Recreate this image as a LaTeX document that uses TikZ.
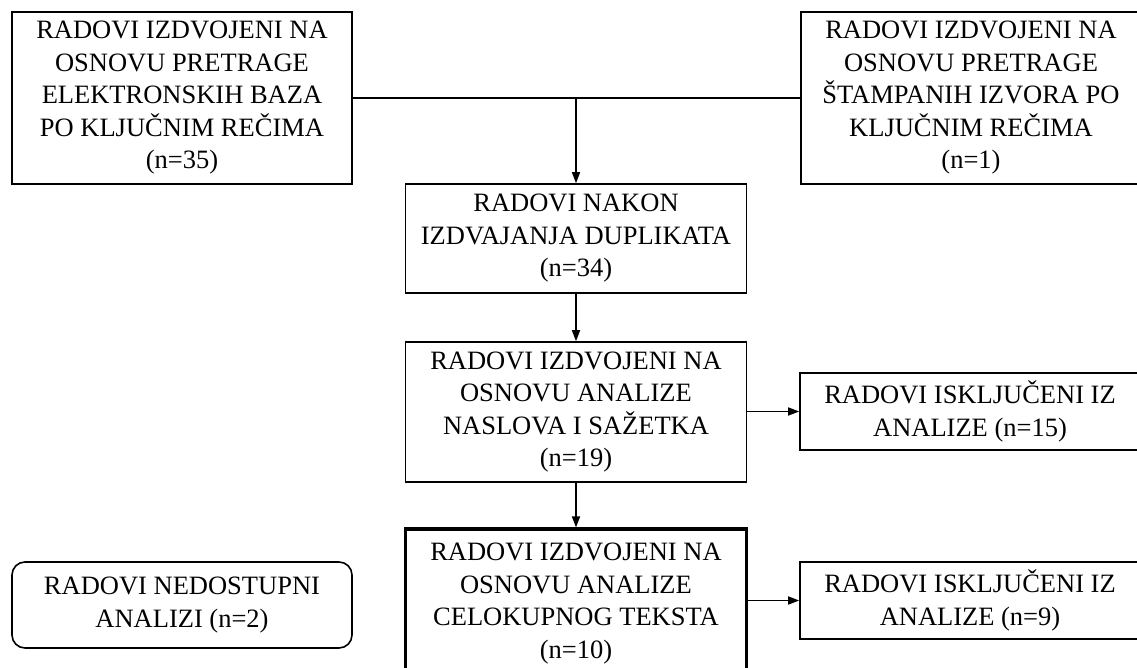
\documentclass[tikz,border=0pt]{standalone}
\usepackage{fontspec}
\setmainfont{Liberation Serif}
\usetikzlibrary{arrows.meta}

\tikzset{
  box/.style={draw, line width=1.6pt, inner sep=0pt, align=center,
    font=\fontsize{26.5}{32.5}\selectfont},
  heavybox/.style={box, line width=3.2pt},
  roundbox/.style={box, rounded corners=13pt},
  flow/.style={line width=1.6pt, -{Triangle[length=11pt,width=8pt]}},
  link/.style={line width=1.6pt}
}

\begin{document}
\begin{tikzpicture}[x=1pt,y=-1pt]
\useasboundingbox (0,0) rectangle (1137,668);
\clip (0,0) rectangle (1137,668);
\fill[white] (0,0) rectangle (1137,668);

% search sources
\node[box, minimum width=340pt, minimum height=172pt] (src1) at (182,98)
  {RADOVI IZDVOJENI NA\\OSNOVU PRETRAGE\\ELEKTRONSKIH BAZA\\PO KLJUČNIM REČIMA\\(n=35)};
\node[box, minimum width=340pt, minimum height=172pt] (src2) at (971,98)
  {RADOVI IZDVOJENI NA\\OSNOVU PRETRAGE\\ŠTAMPANIH IZVORA PO\\KLJUČNIM REČIMA\\(n=1)};

% screening steps
\node[box, minimum width=341pt, minimum height=109pt] (dedup) at (576,238.5)
  {RADOVI NAKON\\IZDVAJANJA DUPLIKATA\\(n=34)};
\node[box, minimum width=341pt, minimum height=140pt] (title) at (576,412)
  {RADOVI IZDVOJENI NA\\OSNOVU ANALIZE\\NASLOVA I SAŽETKA\\(n=19)};
\node[heavybox, minimum width=341pt, minimum height=149pt] (full) at (576,603.5)
  {RADOVI IZDVOJENI NA\\OSNOVU ANALIZE\\CELOKUPNOG TEKSTA\\(n=10)};

% exclusions
\node[box, minimum width=340pt, minimum height=77pt] (ex1) at (970,411.5)
  {RADOVI ISKLJUČENI IZ\\ANALIZE (n=15)};
\node[box, minimum width=340pt, minimum height=77pt] (ex2) at (970,600.5)
  {RADOVI ISKLJUČENI IZ\\ANALIZE (n=9)};
\node[roundbox, minimum width=340pt, minimum height=86pt] (na) at (182,605)
  {RADOVI NEDOSTUPNI\\ANALIZI (n=2)};

% connectors
\coordinate (merge) at (dedup.north |- src1.east);
\draw[link] (src1.east) -- (src2.west);
\draw[flow] (merge) -- (dedup.north);
\draw[flow] (dedup.south) -- (title.north);
\draw[flow] (title.south) -- (full.north);
\draw[flow] (title.east |- ex1.west) -- (ex1.west);
\draw[flow] (full.east |- ex2.west) -- (ex2.west);
\end{tikzpicture}
\end{document}
